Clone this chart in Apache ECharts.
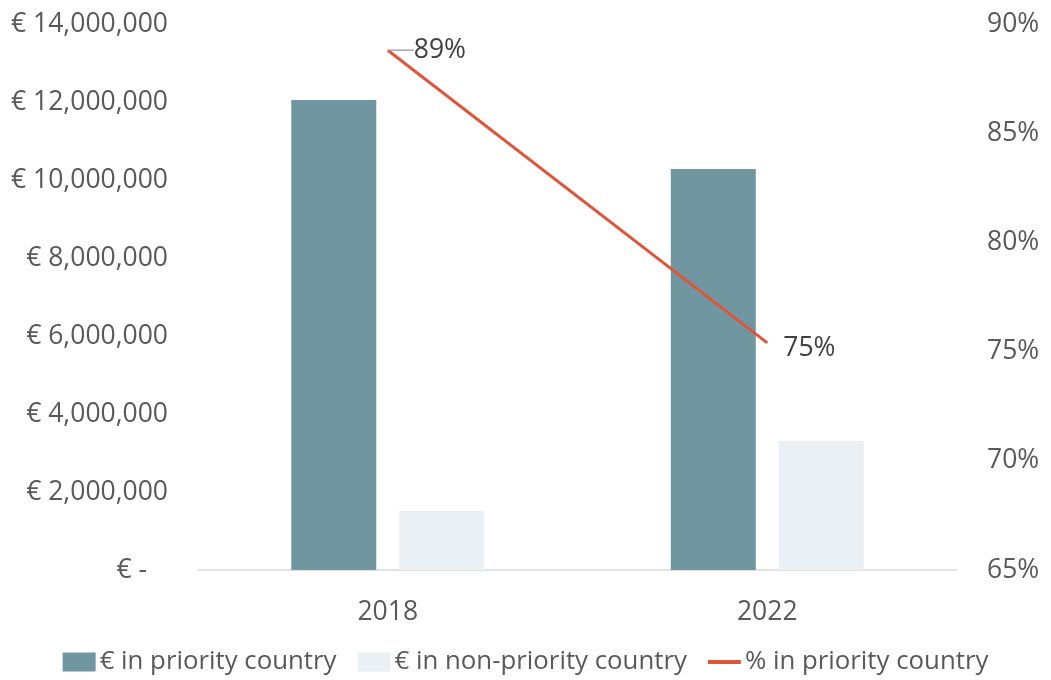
<!DOCTYPE html>
<html>
<head>
<meta charset="utf-8">
<script src="https://cdn.jsdelivr.net/npm/echarts@6/dist/echarts.min.js"></script>
<style>html,body{margin:0;padding:0;background:#fff}#c{width:1051px;height:680px}</style>
</head>
<body>
<div id="c"></div>
<script>
const categories = ['2018', '2022'];
const priorityEur = [12050000, 10280000];
const nonPriorityEur = [1510000, 3310000];
const priorityPct = [88.8, 75.4];
const leftTicks = { min: 0, max: 14000000, interval: 2000000 };
const rightTicks = { min: 65, max: 90, interval: 5 };

const FONT = '"Open Sans", "Noto Sans", sans-serif';
const TXT = '#595959';
const FS = 26.5;

function fmtEur(v) {
  if (v === 0) return '{z|€ -}';
  return '€ ' + v.toLocaleString('en-US');
}

const pctData = priorityPct.map((v, i) => i === 0 ? v : { value: v, labelLine: { show: false } });

const chart = echarts.init(document.getElementById('c'), null, { renderer: 'canvas' });
chart.setOption({
  animation: false,
  textStyle: { fontFamily: FONT },
  grid: { left: 198, right: 94, top: 24, bottom: 110, containLabel: false },
  legend: {
    bottom: 0,
    left: 'center',
    itemWidth: 33,
    itemHeight: 19,
    itemGap: 21,
    textStyle: { fontSize: 25.8, color: TXT, fontFamily: FONT, padding: [0, 0, 0, -1] },
    data: [
      { name: '€ in priority country', icon: 'rect' },
      { name: '€ in non-priority country', icon: 'rect' },
      { name: '% in priority country', icon: 'path://M0,0 H35 V4 H0 Z' }
    ]
  },
  xAxis: {
    type: 'category',
    data: categories,
    axisLine: { show: true, lineStyle: { color: '#d9d9d9', width: 1.5 } },
    axisTick: { show: false },
    axisLabel: { fontSize: FS, color: TXT, margin: 29, fontFamily: FONT }
  },
  yAxis: [
    {
      type: 'value',
      min: leftTicks.min, max: leftTicks.max, interval: leftTicks.interval,
      splitLine: { show: false },
      axisLine: { show: false },
      axisTick: { show: false },
      axisLabel: {
        fontSize: FS, color: TXT, margin: 30, fontFamily: FONT,
        formatter: fmtEur,
        rich: { z: { fontSize: FS, color: TXT, fontFamily: FONT, padding: [0, 21, 0, 0] } }
      }
    },
    {
      type: 'value',
      min: rightTicks.min, max: rightTicks.max, interval: rightTicks.interval,
      position: 'right',
      splitLine: { show: false },
      axisLine: { show: false },
      axisTick: { show: false },
      axisLabel: {
        fontSize: FS, color: TXT, margin: 30, fontFamily: FONT,
        formatter: v => v + '%'
      }
    }
  ],
  series: [
    {
      name: '€ in priority country',
      type: 'bar',
      data: priorityEur,
      barWidth: 85,
      barGap: '27%',
      itemStyle: { color: '#7096A0' }
    },
    {
      name: '€ in non-priority country',
      type: 'bar',
      data: nonPriorityEur,
      barWidth: 85,
      barGap: '27%',
      itemStyle: { color: '#EAF0F3' }
    },
    {
      name: '% in priority country',
      type: 'line',
      yAxisIndex: 1,
      data: pctData,
      symbol: 'circle',
      symbolSize: 0.01,
      showSymbol: true,
      lineStyle: { color: '#E0553A', width: 3 },
      itemStyle: { color: '#E0553A' },
      label: {
        show: true,
        position: 'right',
        distance: 6,
        fontSize: FS,
        color: '#404040',
        fontFamily: FONT,
        formatter: p => Math.round(p.value) + '%'
      },
      labelLine: { show: true, lineStyle: { color: '#a6a6a6', width: 1.5 } },
      labelLayout: function (params) {
        if (params.dataIndex === 0) return { dx: 20, dy: 0 };
        return { dx: 10, dy: 6 };
      }
    }
  ]
});
</script>
</body>
</html>
